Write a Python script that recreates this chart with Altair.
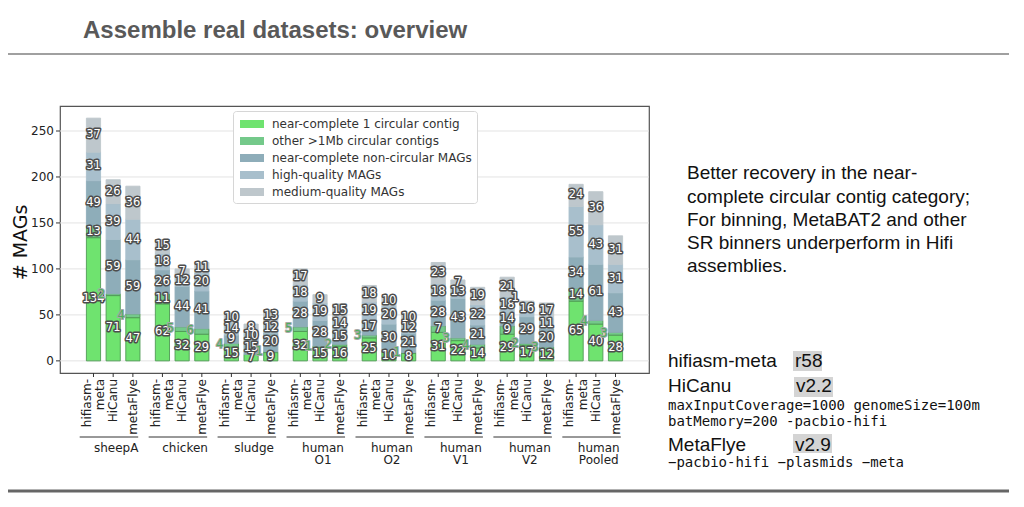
import altair as alt
import pandas as pd

# ---------------- data ----------------
groups = ["sheepA", "chicken", "sludge", "human O1", "human O2", "human V1", "human V2", "human Pooled"]
assemblers = ["hifiasm-meta", "HiCanu", "metaFlye"]
categories = [
    "near-complete 1 circular contig",
    "other >1Mb circular contigs",
    "near-complete non-circular MAGs",
    "high-quality MAGs",
    "medium-quality MAGs",
]
colors = ["#6fe36f", "#74c98a", "#8eadb9", "#a8bfcc", "#bec7cc"]
edges = ["#4f9a55", "#4f9a55", "#8eadb9", "#a8bfcc", "#bec7cc"]

# values per bar: order = group x assembler (hifiasm-meta, HiCanu, metaFlye)
nc_circular = [134, 71, 47, 62, 32, 29, 15, 7, 9, 32, 15, 16, 25, 10, 8, 31, 22, 14, 29, 17, 12, 65, 40, 28]
other_circular = [13, 2, 4, 11, 5, 6, 4, 0, 1, 5, 1, 2, 3, 0, 1, 7, 3, 4, 9, 2, 3, 14, 4, 3]
nc_noncircular = [49, 59, 59, 26, 44, 41, 9, 15, 20, 28, 28, 15, 17, 30, 21, 28, 43, 21, 14, 29, 20, 34, 61, 43]
high_quality = [31, 39, 44, 18, 12, 20, 14, 10, 12, 18, 19, 14, 19, 20, 12, 18, 13, 22, 18, 16, 11, 55, 43, 31]
medium_quality = [37, 26, 36, 15, 7, 11, 10, 8, 13, 17, 9, 15, 18, 10, 10, 23, 7, 19, 21, 1, 17, 24, 36, 31]

y_ticks = [0, 50, 100, 150, 200, 250]
y_title = "# MAGs"

series = [nc_circular, other_circular, nc_noncircular, high_quality, medium_quality]
GAP = 3.5
HALF = 0.36

rows = []
for i in range(len(nc_circular)):
    g, b = divmod(i, 3)
    xc = g * GAP + b
    base = 0
    for k, vals in enumerate(series):
        v = vals[i]
        out = (k == 1 and v < 7) or (k >= 2 and v <= 1)
        rows.append(dict(group=groups[g], asm=assemblers[b], cat=categories[k], k=k,
                         xc=xc, x0=xc - HALF, x1=xc + HALF, y0=base, y1=base + v,
                         ym=base + v / 2, v=v, label=str(v), edge=edges[k],
                         kind=("none" if v == 0 else ("out" if out else "in"))))
        base += v
df = pd.DataFrame(rows)

gdf = pd.DataFrame([dict(name=n, gx0=g * GAP - 0.7, gx1=g * GAP + 2.27, gc=g * GAP + 1.15)
                    for g, n in enumerate(groups)])


def split_label(s):
    if "-" in s:
        a, c = s.split("-", 1)
        return [a + "-", c]
    return [s]


tdf = pd.DataFrame([dict(xc=g * GAP + b, lab=split_label(a), n=len(split_label(a)))
                    for g in range(len(groups)) for b, a in enumerate(assemblers)])
ydf = pd.DataFrame({"v": y_ticks, "t": [str(t) for t in y_ticks]})

W, H = 589, 267
xs = alt.Scale(domain=[-1.7, 28.2], nice=False, zero=False)
ys = alt.Scale(domain=[-13.2, 277.2], nice=False, zero=False)

FONT = "DejaVu Sans"
X = lambda f: alt.X(f, scale=xs, axis=None)
Y = lambda f: alt.Y(f, scale=ys, axis=None)

# --- y axis: grid, ticks, labels, title (positioned through the y scale) ---
grid = alt.Chart(ydf).mark_rule(color="#e3e3e3", strokeWidth=1).encode(
    y=Y("v:Q"), x=alt.value(0), x2=alt.value(W))
yticks = alt.Chart(ydf).mark_rule(color="#333", strokeWidth=1).encode(
    y=Y("v:Q"), x=alt.value(-4), x2=alt.value(0))
ylabels = alt.Chart(ydf).mark_text(font=FONT, fontSize=12, color="#222", align="right",
                                   baseline="middle").encode(
    y=Y("v:Q"), x=alt.value(-6), text="t:N")
one = pd.DataFrame({"a": [0]})
ytitle = alt.Chart(one).mark_text(font=FONT, fontSize=19, color="#111", angle=270,
                                  align="center", baseline="middle").encode(
    x=alt.value(-39), y=alt.value(H / 2 + 3), text=alt.value(y_title))

bars = alt.Chart(df).mark_bar(strokeWidth=0.9).encode(
    x=X("x0:Q"), x2="x1:Q",
    y=Y("y0:Q"), y2="y1:Q",
    color=alt.Color("cat:N", scale=alt.Scale(domain=categories, range=colors),
                    legend=alt.Legend(title=None, orient="none", legendX=173, legendY=5,
                                      fillColor="white", strokeColor="#d6d6d6",
                                      cornerRadius=3, padding=5, labelFont=FONT,
                                      labelFontSize=12, labelColor="#333", labelLimit=0,
                                      symbolType="M-1.5,-0.5H1.5V0.5H-1.5Z",
                                      symbolSize=256, symbolStrokeWidth=0,
                                      symbolOffset=6, labelOffset=12, rowPadding=3,
                                      symbolOpacity=1)),
    stroke=alt.Stroke("edge:N", scale=None),
)

# --- x axis: ticks and rotated labels ---
xticks = alt.Chart(tdf).mark_rule(color="#333", strokeWidth=1).encode(
    x=X("xc:Q"), y=alt.value(H), y2=alt.value(H + 4))
xlab_kw = dict(font=FONT, fontSize=12, color="#222", angle=270, align="right",
               baseline="middle", lineHeight=13.5)
xlabels1 = alt.Chart(tdf[tdf.n == 1]).mark_text(**xlab_kw).encode(
    x=X("xc:Q"), y=alt.value(H + 6), text="lab")
xlabels2 = alt.Chart(tdf[tdf.n == 2]).mark_text(dy=-6.75, **xlab_kw).encode(
    x=X("xc:Q"), y=alt.value(H + 6), text="lab")

inside = df[df.kind == "in"]
outside = df[df.kind == "out"]


def labels(data, align, dx, dy, fill, stroke=None, sw=0):
    kw = dict(font=FONT, fontSize=11.5, baseline="middle", align=align, dx=dx, dy=dy, fill=fill)
    if stroke:
        kw.update(stroke=stroke, strokeWidth=sw, strokeJoin="round")
    return alt.Chart(data).mark_text(**kw).encode(x=X("xc:Q"), y=Y("ym:Q"), text="label:N")


out_green = outside[outside.k == 1]
out_other = outside[outside.k != 1]
label_layers = [
    labels(inside, "center", 0, 0, "#4d4d4d", "#4d4d4d", 3),
    labels(inside, "center", 0, 0, "white"),
    labels(out_green, "right", -8, 0, "#a8a8a8", "#a8a8a8", 2),
    labels(out_green, "right", -8, 0, "#4fae5f"),
    labels(out_other, "right", -8, -4, "#4d4d4d", "#4d4d4d", 3),
    labels(out_other, "right", -8, -4, "white"),
]

grp_rules = alt.Chart(gdf).mark_rule(color="#333", strokeWidth=1).encode(
    x=X("gx0:Q"), x2="gx1:Q", y=alt.value(331))
grp_text = alt.Chart(gdf).mark_text(font=FONT, fontSize=12, color="#222", align="center",
                                    baseline="alphabetic", lineBreak=" ", lineHeight=12.8).encode(
    x=X("gc:Q"), y=alt.value(345.5), text="name:N")


def txt(s, x, y, **kw):
    style = dict(align="left", baseline="alphabetic")
    style.update(kw)
    return alt.Chart(one).mark_text(**style).encode(x=alt.value(x), y=alt.value(y), text=alt.value(s))


def box(x0, x1, y0, y1, color):
    return alt.Chart(one).mark_rect(color=color).encode(
        x=alt.value(x0), x2=alt.value(x1), y=alt.value(y0), y2=alt.value(y1))


def hline(x0, x1, y, color, w):
    return alt.Chart(one).mark_rule(color=color, strokeWidth=w).encode(
        x=alt.value(x0), x2=alt.value(x1), y=alt.value(y))


SANS = "Liberation Sans"
MONO = "DejaVu Sans Mono"
title = txt("Assemble real datasets: overview", 23, -68, font=SANS, fontSize=24,
            fontWeight="bold", color="#595959")
paragraph = txt("Better recovery in the near-\ncomplete circular contig category;\nFor binning, MetaBAT2 and other\nSR binners underperform in Hifi\nassemblies.",
                627, 73.3, font=SANS, fontSize=19, color="#111", lineBreak="\n", lineHeight=23.3)

annot = [
    hline(-60, 964, -52, "#808080", 1.5),
    hline(-60, 964, 385, "#666666", 3),
    title, paragraph,
    box(733, 762, 245, 265, "#d4d4d4"),
    box(734, 773, 271, 291, "#d4d4d4"),
    box(733, 772, 328, 347, "#d4d4d4"),
    txt("hifiasm-meta", 608, 261, font=SANS, fontSize=19, color="#111"),
    txt("r58", 735, 261, font=SANS, fontSize=19, color="#111"),
    txt("HiCanu", 608, 286, font=SANS, fontSize=19, color="#111"),
    txt("v2.2", 736, 286, font=SANS, fontSize=19, color="#111"),
    txt("maxInputCoverage=1000 genomeSize=100m", 608, 304, font=MONO, fontSize=14, color="#111"),
    txt("batMemory=200 -pacbio-hifi", 608, 320, font=MONO, fontSize=14, color="#111"),
    txt("MetaFlye", 608, 345, font=SANS, fontSize=19, color="#111"),
    txt("v2.9", 735, 345, font=SANS, fontSize=19, color="#111"),
    txt("\u2212pacbio-hifi \u2212plasmids \u2212meta", 608, 361, font=MONO, fontSize=14, color="#111"),
]

chart = alt.layer(
    grid, bars, *label_layers, yticks, ylabels, ytitle, xticks, xlabels1, xlabels2,
    grp_rules, grp_text, *annot
).properties(
    width=W, height=H,
    autosize=alt.AutoSizeParams(type="none"),
    padding={"left": 52, "top": 98, "right": 360, "bottom": 120},
).configure_view(stroke="#555", strokeWidth=1.2)

chart.save("out.html", embed_options={"renderer": "svg", "actions": False})
